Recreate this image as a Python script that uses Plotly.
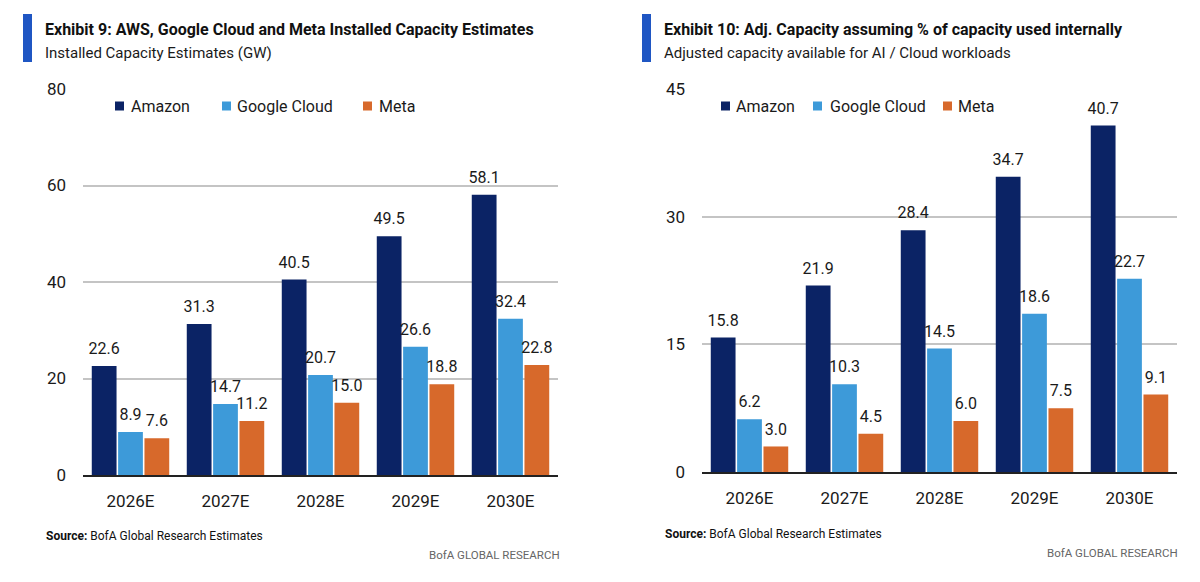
import plotly.graph_objects as go
from plotly.subplots import make_subplots

years = ["2026E", "2027E", "2028E", "2029E", "2030E"]
series = ["Amazon", "Google Cloud", "Meta"]
colors = ["#0b2365", "#3d9ad9", "#d7692b"]

installed_amazon = [22.6, 31.3, 40.5, 49.5, 58.1]
installed_google = [8.9, 14.7, 20.7, 26.6, 32.4]
installed_meta = [7.6, 11.2, 15.0, 18.8, 22.8]

adjusted_amazon = [15.8, 21.9, 28.4, 34.7, 40.7]
adjusted_google = [6.2, 10.3, 14.5, 18.6, 22.7]
adjusted_meta = [3.0, 4.5, 6.0, 7.5, 9.1]

left_ticks = [0, 20, 40, 60, 80]
right_ticks = [0, 15, 30, 45]

FONT = "Roboto, sans-serif"
TXT = "#1a1a1a"
W, H = 1200, 582
GAP = 0.168

fig = make_subplots(rows=1, cols=2)

for col, data in ((1, [installed_amazon, installed_google, installed_meta]),
                  (2, [adjusted_amazon, adjusted_google, adjusted_meta])):
    for name, vals, c in zip(series, data, colors):
        fig.add_trace(go.Bar(
            x=years, y=vals, name=name, offsetgroup=name,
            marker=dict(color=c, line=dict(width=0)),
            showlegend=False, hoverinfo="skip",
        ), row=1, col=col)
    for name, vals in zip(series, data):
        fig.add_trace(go.Scatter(
            x=years, y=vals, mode="markers+text", offsetgroup=name,
            marker=dict(size=11, opacity=0),
            text=[f"{v:.1f}" for v in vals], textposition="top center",
            textfont=dict(family=FONT, size=16, color=TXT),
            cliponaxis=False, showlegend=False, hoverinfo="skip",
        ), row=1, col=col)

def px(x):
    return x / W

def py(y):
    return 1 - y / H

fig.update_layout(
    width=W, height=H, margin=dict(l=0, r=0, t=0, b=0, autoexpand=False),
    paper_bgcolor="white", plot_bgcolor="white",
    barmode="group", bargap=GAP, bargroupgap=0.06,
    scattermode="group", scattergap=GAP,
    font=dict(family=FONT, color=TXT),
)

axis_common = dict(showgrid=False, showline=True, linecolor="#222222", linewidth=2,
                   ticks="", tickfont=dict(family=FONT, size=17, color=TXT),
                   ticklabelstandoff=10, fixedrange=True, automargin=False)
fig.update_xaxes(domain=[px(83), px(558)], **axis_common, row=1, col=1)
fig.update_xaxes(domain=[px(702), px(1177)], **axis_common, row=1, col=2)

yaxis_common = dict(showgrid=True, gridcolor="#c4c4c4", gridwidth=1.5, showline=False,
                    zeroline=False, ticks="", tickfont=dict(family=FONT, size=17, color=TXT),
                    ticklabelstandoff=16, fixedrange=True, automargin=False)
fig.update_yaxes(domain=[py(475), py(89)], range=[0, 80], tickvals=left_ticks,
                 **yaxis_common, row=1, col=1)
fig.update_yaxes(domain=[py(472), py(89)], range=[0, 45], tickvals=right_ticks,
                 **yaxis_common, row=1, col=2)

shapes = []
annotations = []

# Title accents
for x0 in (23, 642):
    shapes.append(dict(type="rect", xref="paper", yref="paper", x0=px(x0), x1=px(x0 + 9),
                       y0=py(62), y1=py(14), fillcolor="#1f56c3", line=dict(width=0)))

titles = [
    (43, "Exhibit 9: AWS, Google Cloud and Meta Installed Capacity Estimates",
     "Installed Capacity Estimates (GW)"),
    (662, "Exhibit 10: Adj. Capacity assuming % of capacity used internally",
     "Adjusted capacity available for AI / Cloud workloads"),
]
for x, t, s in titles:
    annotations.append(dict(xref="paper", yref="paper", x=px(x), y=py(29), xanchor="left",
                            yanchor="middle", text=f"<b>{t}</b>", showarrow=False,
                            font=dict(family=FONT, size=16, color="#111111")))
    annotations.append(dict(xref="paper", yref="paper", x=px(x), y=py(53), xanchor="left",
                            yanchor="middle", text=s, showarrow=False,
                            font=dict(family=FONT, size=15, color=TXT)))

# Legends (manual)
legend_pos = [
    [(115, 129), (222, 235), (363, 377)],
    [(721, 734), (813, 828), (943, 956)],
]
for items in legend_pos:
    for (sx, tx), name, c in zip(items, series, colors):
        shapes.append(dict(type="rect", xref="paper", yref="paper", x0=px(sx), x1=px(sx + 9),
                           y0=py(110.5), y1=py(101.5), fillcolor=c, line=dict(width=0)))
        annotations.append(dict(xref="paper", yref="paper", x=px(tx), y=py(106), xanchor="left",
                                yanchor="middle", text=name, showarrow=False,
                                font=dict(family=FONT, size=16, color=TXT)))

# Sources and branding
for sx, sy, bx, by in ((44, 536, 562, 555), (663, 534, 1180, 553)):
    annotations.append(dict(xref="paper", yref="paper", x=px(sx), y=py(sy), xanchor="left",
                            yanchor="middle", text="<b>Source:</b> BofA Global Research Estimates",
                            showarrow=False, font=dict(family=FONT, size=12, color="#111111")))
    annotations.append(dict(xref="paper", yref="paper", x=px(bx), y=py(by), xanchor="right",
                            yanchor="middle", text="BofA GLOBAL RESEARCH",
                            showarrow=False, font=dict(family=FONT, size=11.5, color="#666666")))

fig.update_layout(shapes=shapes, annotations=annotations)

fig.write_html("out.html")
